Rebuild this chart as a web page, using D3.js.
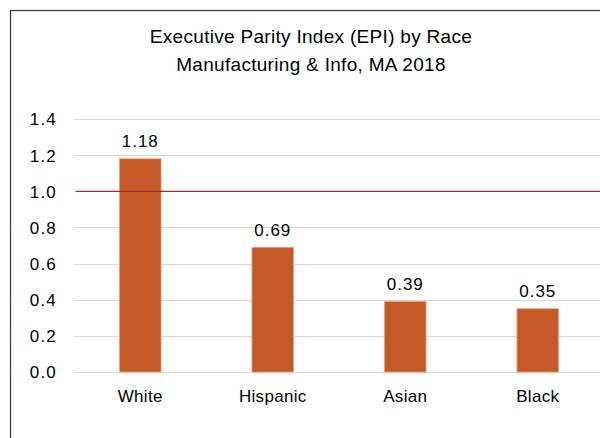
<!DOCTYPE html>
<html>
<head>
<meta charset="utf-8">
<script src="https://cdn.jsdelivr.net/npm/d3@7"></script>
<style>
  html, body { margin: 0; padding: 0; background: #fff; }
  svg { display: block; }
  text { font-family: "Liberation Sans", Arial, sans-serif; fill: #000; }
</style>
</head>
<body>
<svg id="chart" width="600" height="438"></svg>
<script>
const titleLines = ["Executive Parity Index (EPI) by Race", "Manufacturing & Info, MA 2018"];
const categories = ["White", "Hispanic", "Asian", "Black"];
const values = [1.18, 0.69, 0.39, 0.35];
const yTicks = [0, 0.2, 0.4, 0.6, 0.8, 1.0, 1.2, 1.4];
const parityLevel = [1.0];

const svg = d3.select("#chart");
const W = 600, H = 438;
const margin = { left: 74, right: -4, top: 119, bottom: 66 };
const fontStack = '"Liberation Sans", Arial, sans-serif';

// outer chart frame (extends past the right and bottom edges)
svg.append("rect")
  .attr("x", 10.5).attr("y", 10.5)
  .attr("width", 620).attr("height", 460)
  .attr("fill", "none").attr("stroke", "#404040").attr("stroke-width", 1.3);

const x = d3.scaleBand()
  .domain(categories)
  .range([margin.left, W - margin.right])
  .paddingInner(0.686).paddingOuter(0.343);

const y = d3.scaleLinear()
  .domain([0, 1.4])
  .range([H - margin.bottom, margin.top]);

// gridlines
svg.append("g").selectAll("line").data(yTicks).join("line")
  .attr("x1", margin.left).attr("x2", W)
  .attr("y1", d => Math.round(y(d)) + 0.5).attr("y2", d => Math.round(y(d)) + 0.5)
  .attr("stroke", "#d9d9d9").attr("stroke-width", 1);

// y axis labels
const yAxis = d3.axisLeft(y).tickValues(yTicks).tickFormat(d3.format(".1f")).tickSize(0).tickPadding(0);
const gy = svg.append("g").attr("transform", `translate(57,0)`).call(yAxis);
gy.select(".domain").remove();
gy.selectAll("text")
  .attr("font-size", 17).attr("dy", "0.35em").attr("letter-spacing", 1.2)
  .style("font-family", fontStack).attr("fill", "#000");

// bars
svg.append("g").selectAll("rect").data(values).join("rect")
  .attr("x", (d, i) => x(categories[i]))
  .attr("width", x.bandwidth())
  .attr("y", d => y(d))
  .attr("height", d => y(0) - y(d))
  .attr("fill", "#c55a28")
  .attr("stroke", "#e9a27e").attr("stroke-width", 0.8);

// parity reference line
svg.append("g").selectAll("line").data(parityLevel).join("line")
  .attr("x1", 76).attr("x2", W)
  .attr("y1", d => y(d)).attr("y2", d => y(d))
  .attr("stroke", "#a52a2a").attr("stroke-width", 1.3);

// value labels
svg.append("g").selectAll("text").data(values).join("text")
  .attr("x", (d, i) => x(categories[i]) + x.bandwidth() / 2)
  .attr("y", d => y(d) - 11.5)
  .attr("text-anchor", "middle")
  .attr("font-size", 17).attr("letter-spacing", 1)
  .text(d => d3.format(".2f")(d));

// category labels
const xAxis = d3.axisBottom(x).tickSize(0).tickPadding(0);
const gx = svg.append("g").attr("transform", `translate(0,${y(0) + 24})`).call(xAxis);
gx.select(".domain").remove();
gx.selectAll("text")
  .attr("font-size", 17).attr("dy", "0.35em").attr("letter-spacing", 0.3)
  .style("font-family", fontStack).attr("fill", "#000");

// title
svg.append("g").selectAll("text").data(titleLines).join("text")
  .attr("x", 311)
  .attr("y", (d, i) => 43 + i * 27.5)
  .attr("text-anchor", "middle")
  .attr("font-size", 19).attr("letter-spacing", 0.3)
  .text(d => d);
</script>
</body>
</html>
